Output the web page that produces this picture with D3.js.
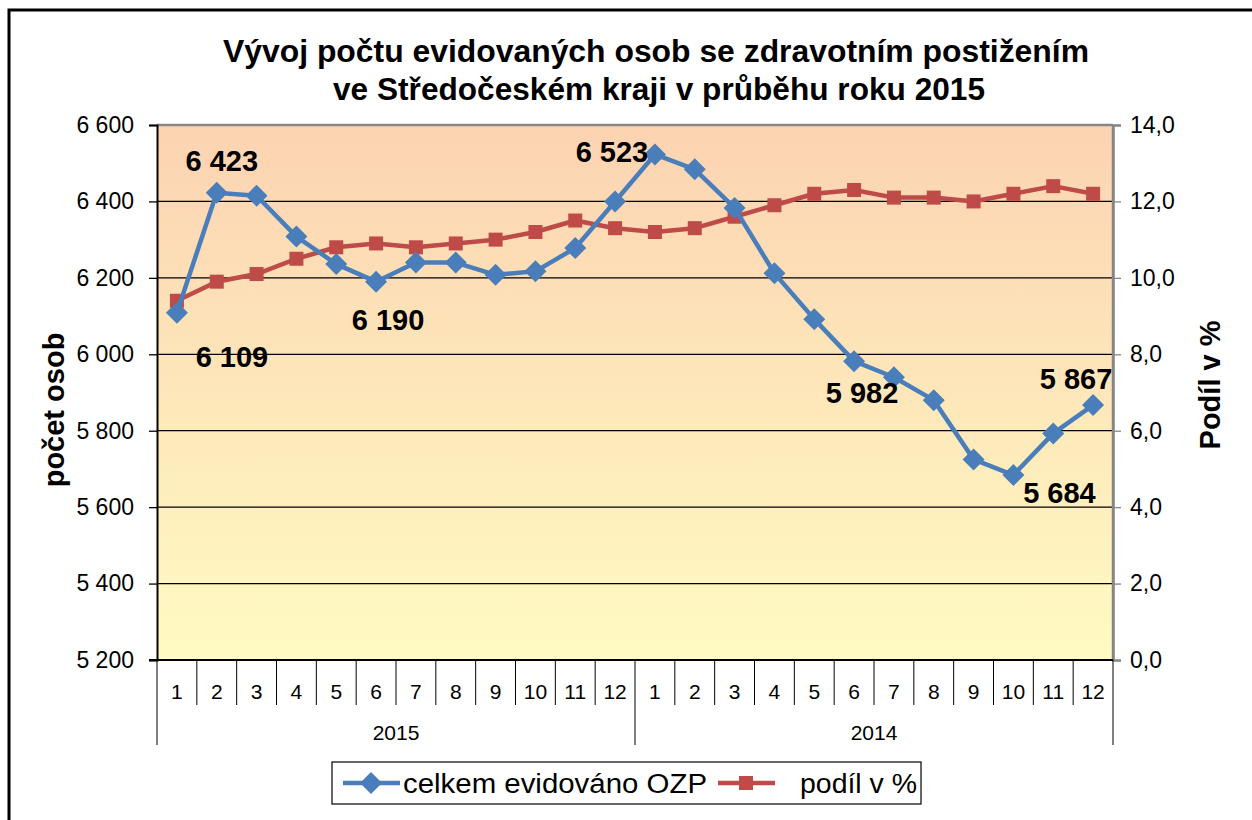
<!DOCTYPE html>
<html><head><meta charset="utf-8">
<script src="https://cdn.jsdelivr.net/npm/d3@7"></script>
<style>body{margin:0;background:#fff;} svg{display:block;font-family:"Liberation Sans",Arial,sans-serif;}</style>
</head><body>
<script>
const months = ["1","2","3","4","5","6","7","8","9","10","11","12"];
const years = ["2015","2014"];
const totalOZP = [6109,6423,6415,6308,6236,6190,6240,6240,6208,6217,6278,6400,
                  6523,6484,6383,6212,6092,5982,5940,5880,5725,5684,5793,5867];
const sharePct = [9.4,9.9,10.1,10.5,10.8,10.9,10.8,10.9,11.0,11.2,11.5,11.3,
                  11.2,11.3,11.6,11.9,12.2,12.3,12.1,12.1,12.0,12.2,12.4,12.2];
const leftTicks = [5200,5400,5600,5800,6000,6200,6400,6600];
const rightTicks = [0,2,4,6,8,10,12,14];
const labelled = [0,1,5,12,17,21,23];
const seriesNames = ["celkem evidováno OZP","podíl v %"];
const title = ["Vývoj počtu evidovaných osob se zdravotním postižením","ve Středočeském kraji v průběhu roku 2015"];

const W=1252,H=820;
const L=157,R=1113,T=125,B=660;
const svg=d3.select("body").append("svg").attr("width",W).attr("height",H);
const defs=svg.append("defs");
const g=defs.append("linearGradient").attr("id","bg").attr("x1",0).attr("y1",0).attr("x2",0).attr("y2",1);
g.append("stop").attr("offset","0%").attr("stop-color","#FCD3B2");
g.append("stop").attr("offset","100%").attr("stop-color","#FFFBC2");

// outer frame
svg.append("rect").attr("x",9).attr("y",10).attr("width",1260).attr("height",830).attr("fill","none").attr("stroke","#000").attr("stroke-width",3);

// title
svg.append("text").attr("x",656).attr("y",62).attr("text-anchor","middle").attr("font-size",31).attr("font-weight","bold").attr("textLength",866).attr("lengthAdjust","spacingAndGlyphs").text(title[0]);
svg.append("text").attr("x",659).attr("y",100).attr("text-anchor","middle").attr("font-size",31).attr("font-weight","bold").attr("textLength",652).attr("lengthAdjust","spacingAndGlyphs").text(title[1]);

const cats=d3.range(24);
const x=d3.scaleBand().domain(cats).range([L,R]);
const yL=d3.scaleLinear().domain([5200,6600]).range([B,T]);
const yR=d3.scaleLinear().domain([0,14]).range([B,T]);

svg.append("rect").attr("x",L).attr("y",T).attr("width",R-L).attr("height",B-T).attr("fill","url(#bg)");

// gridlines
svg.append("g").selectAll("line").data(leftTicks.slice(1,-1)).join("line")
  .attr("x1",L).attr("x2",R).attr("y1",d=>yL(d)).attr("y2",d=>yL(d)).attr("stroke","#000").attr("stroke-width",1.2);
// plot border top/right grey
svg.append("line").attr("x1",L).attr("x2",R).attr("y1",T).attr("y2",T).attr("stroke","#868686").attr("stroke-width",2.5);
svg.append("line").attr("x1",R).attr("x2",R).attr("y1",T).attr("y2",B).attr("stroke","#868686").attr("stroke-width",2.5);

const fmt=d=>d3.format(",")(d).replace(/,/g," ");
// left axis
const ax=svg.append("g").attr("transform",`translate(${L},0)`).call(d3.axisLeft(yL).tickValues(leftTicks).tickFormat(fmt).tickSize(8).tickPadding(15));
ax.select(".domain").attr("stroke","#000").attr("stroke-width",2);
ax.selectAll("text").attr("font-size",23).attr("fill","#000").attr("font-family","Liberation Sans, Arial");
ax.selectAll(".tick line").attr("stroke","#000").attr("stroke-width",1.3);
// right axis
const ar=svg.append("g").attr("transform",`translate(${R},0)`).call(d3.axisRight(yR).tickValues(rightTicks).tickFormat(d=>d3.format(".1f")(d).replace(".",",")).tickSize(8).tickPadding(9));
ar.select(".domain").attr("stroke","#868686").attr("stroke-width",2.5);
ar.selectAll("text").attr("font-size",23).attr("fill","#000").attr("font-family","Liberation Sans, Arial");
ar.selectAll(".tick line").attr("stroke","#868686").attr("stroke-width",1.3);

// x axis
svg.append("line").attr("x1",L-8).attr("x2",R).attr("y1",B).attr("y2",B).attr("stroke","#000").attr("stroke-width",2);
const xa=svg.append("g");
xa.selectAll("line.m").data(d3.range(25)).join("line")
  .attr("x1",i=>L+i*x.bandwidth()).attr("x2",i=>L+i*x.bandwidth())
  .attr("y1",B).attr("y2",i=>(i%12===0)?745:705).attr("stroke","#000").attr("stroke-width",1);
xa.selectAll("text.m").data(cats).join("text")
  .attr("x",i=>x(i)+x.bandwidth()/2).attr("y",699).attr("text-anchor","middle").attr("font-size",21).text(i=>months[i%12]);
xa.selectAll("text.y").data(years).join("text")
  .attr("x",(d,i)=>L+(i*12+6)*x.bandwidth()).attr("y",740).attr("text-anchor","middle").attr("font-size",21).text(d=>d);

// axis titles
svg.append("text").attr("transform","translate(64,410) rotate(-90)").attr("text-anchor","middle").attr("font-size",29).attr("font-weight","bold").text("počet osob");
svg.append("text").attr("transform","translate(1220,385) rotate(-90)").attr("text-anchor","middle").attr("font-size",29).attr("font-weight","bold").text("Podíl v %");

const blue="#4A7EBB", red="#BE4B48";
const cx=i=>x(i)+x.bandwidth()/2;
// red series
svg.append("path").datum(sharePct).attr("d",d3.line().x((d,i)=>cx(i)).y(d=>yR(d)))
  .attr("fill","none").attr("stroke",red).attr("stroke-width",4.5).attr("stroke-linejoin","round");
svg.append("g").selectAll("rect").data(sharePct).join("rect")
  .attr("x",(d,i)=>cx(i)-7).attr("y",d=>yR(d)-7).attr("width",14).attr("height",14).attr("fill",red);
// blue series
svg.append("path").datum(totalOZP).attr("d",d3.line().x((d,i)=>cx(i)).y(d=>yL(d)))
  .attr("fill","none").attr("stroke",blue).attr("stroke-width",4.5).attr("stroke-linejoin","round");
const diamond="M0,-11L11,0L0,11L-11,0Z";
svg.append("g").selectAll("path").data(totalOZP).join("path")
  .attr("transform",(d,i)=>`translate(${cx(i)},${yL(d)})`).attr("d",diamond).attr("fill",blue);

// data labels
const offs={0:[55,54],1:[5,-22],5:[12,48],12:[-43,8],17:[8,42],21:[46,28],23:[-17,-16]};
svg.append("g").selectAll("text").data(labelled).join("text")
  .attr("x",i=>cx(i)+offs[i][0]).attr("y",i=>yL(totalOZP[i])+offs[i][1])
  .attr("text-anchor","middle").attr("font-size",29).attr("font-weight","bold").text(i=>fmt(totalOZP[i]));

// legend
const lg=svg.append("g");
lg.append("rect").attr("x",332).attr("y",762).attr("width",589).attr("height",42).attr("fill","#fff").attr("stroke","#000").attr("stroke-width",1.2);
lg.append("line").attr("x1",343).attr("x2",400).attr("y1",783).attr("y2",783).attr("stroke",blue).attr("stroke-width",4.5);
lg.append("path").attr("transform","translate(371,783)").attr("d",diamond).attr("fill",blue);
lg.append("text").attr("x",403).attr("y",793).attr("font-size",27).attr("textLength",304).attr("lengthAdjust","spacingAndGlyphs").text(seriesNames[0]);
lg.append("line").attr("x1",718).attr("x2",775).attr("y1",783).attr("y2",783).attr("stroke",red).attr("stroke-width",4.5);
lg.append("rect").attr("x",739).attr("y",776).attr("width",14).attr("height",14).attr("fill",red);
lg.append("text").attr("x",800).attr("y",793).attr("font-size",27).attr("textLength",117).attr("lengthAdjust","spacingAndGlyphs").text(seriesNames[1]);
</script>
</body></html>
